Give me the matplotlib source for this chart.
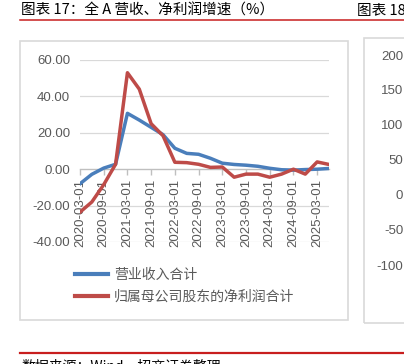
import matplotlib.pyplot as plt
from matplotlib.patches import Rectangle
from matplotlib.lines import Line2D

# figure is laid out in pixels, 404 x 364 at dpi 100
W, H = 404, 364

dates = ['2020-03-01', '2020-06-01', '2020-09-01', '2020-12-01',
         '2021-03-01', '2021-06-01', '2021-09-01', '2021-12-01',
         '2022-03-01', '2022-06-01', '2022-09-01', '2022-12-01',
         '2023-03-01', '2023-06-01', '2023-09-01', '2023-12-01',
         '2024-03-01', '2024-06-01', '2024-09-01', '2024-12-01',
         '2025-03-01', '2025-06-01']
revenue = [-8.0, -2.8, 0.6, 2.7, 30.7, 27.0, 23.0, 19.0, 11.5, 8.7, 8.2,
           6.0, 3.3, 2.6, 2.2, 1.6, 0.5, -0.3, -0.5, -0.2, 0.0, 0.4]
profit = [-23.6, -18.0, -8.5, 2.7, 53.0, 44.0, 25.0, 18.4, 3.8, 3.6, 2.7,
          1.0, 1.2, -4.4, -2.7, -2.7, -4.4, -2.7, 0.0, -2.7, 4.0, 2.6]
labels = ['营业收入合计', '归属母公司股东的净利润合计']
yticks = [-40, -20, 0, 20, 40, 60]
right_yticks = [-100, -50, 0, 50, 100, 150, 200]

blue = '#4a7ebb'
red = '#be4b48'
grey_txt = '#595959'
grid_c = '#d9d9d9'
title_red = '#c81e1e'

cjk = ['Noto Sans CJK SC', 'DejaVu Sans']


def rect(x0, y0, x1, y1):
    return [x0 / W, 1 - y1 / H, (x1 - x0) / W, (y1 - y0) / H]


def fx(x):
    return x / W


def fy(y):
    return 1 - y / H


fig = plt.figure(figsize=(W / 100, H / 100), dpi=100)

# title, underline and the next chart's title
fig.text(fx(21), fy(11), '图表 17：全 A 营收、净利润增速（%）', family=cjk,
         fontsize=10.5, color='black', va='center', ha='left')
fig.text(fx(357), fy(11), '图表 18：', family=cjk,
         fontsize=10.5, color='black', va='center', ha='left')
fig.add_artist(Line2D([fx(20), 1.0], [fy(19.5), fy(19.5)], color=title_red, lw=1.1))

# chart frames
fig.add_artist(Rectangle((fx(20), fy(320)), fx(348) - fx(20), fy(41) - fy(320),
                         fill=False, edgecolor=grid_c, lw=1.2))
fig.add_artist(Rectangle((fx(364), fy(323)), fx(420) - fx(364), fy(38) - fy(323),
                         fill=False, edgecolor=grid_c, lw=1.2))

# main chart
ax = fig.add_axes(rect(80, 60, 329, 242))
# spine position first, it resets the ticks
ax.spines['bottom'].set_position(('data', 0))
x = list(range(len(dates)))
ax.plot(x, revenue, color=blue, lw=2.5, label=labels[0], solid_joinstyle='round')
ax.plot(x, profit, color=red, lw=2.5, label=labels[1], solid_joinstyle='round')
ax.set_xlim(0, len(dates) - 1)
ax.set_ylim(-40, 60)
ax.set_yticks(yticks)
ax.set_yticklabels([f'{v:.2f}' for v in yticks], family='Liberation Sans',
                   fontsize=9.5, color=grey_txt)
for v in yticks:
    if v != 0:
        ax.axhline(v, color=grid_c, lw=0.9, zorder=0)
ax.set_xticks(x[::2])
ax.set_xticklabels(dates[::2], rotation=90, family='Liberation Sans',
                   fontsize=9.5, color=grey_txt, va='top', ha='center')
for s in ['top', 'right', 'left']:
    ax.spines[s].set_visible(False)
ax.spines['bottom'].set_color('#bfbfbf')
ax.spines['bottom'].set_linewidth(1.0)
ax.spines['bottom'].set_zorder(1)
ax.tick_params(axis='x', length=4, width=1.0, color='#bfbfbf', pad=3)
ax.tick_params(axis='y', length=0, pad=7)
ax.set_facecolor('none')

leg = fig.legend(loc='upper left', bbox_to_anchor=(fx(75), fy(268)),
                 frameon=False, prop={'family': cjk, 'size': 10},
                 handlelength=2.4, handletextpad=0.4, labelspacing=0.55,
                 borderaxespad=0, borderpad=0)
for t in leg.get_texts():
    t.set_color(grey_txt)
for h in leg.get_lines():
    h.set_linewidth(3)

# the neighbouring chart, only its axis labels are in view
ax2 = fig.add_axes(rect(406, 55, 500, 265))
ax2.set_ylim(-100, 200)
ax2.set_yticks(right_yticks)
ax2.set_yticklabels([str(v) for v in right_yticks], family='Liberation Sans',
                    fontsize=9.5, color=grey_txt)
ax2.tick_params(axis='y', length=0, pad=2)
ax2.set_xticks([])
for s in ax2.spines.values():
    s.set_visible(False)
ax2.set_facecolor('none')

# footer, cut by the page edge
fig.add_artist(Line2D([fx(20), 1.0], [fy(353), fy(353)], color=title_red, lw=1.6))
fig.text(fx(21), fy(359), '数据来源：Wind，招商证券整理', family=cjk,
         fontsize=10, color='black', va='top', ha='left')

fig.savefig('out.png', dpi=100)
